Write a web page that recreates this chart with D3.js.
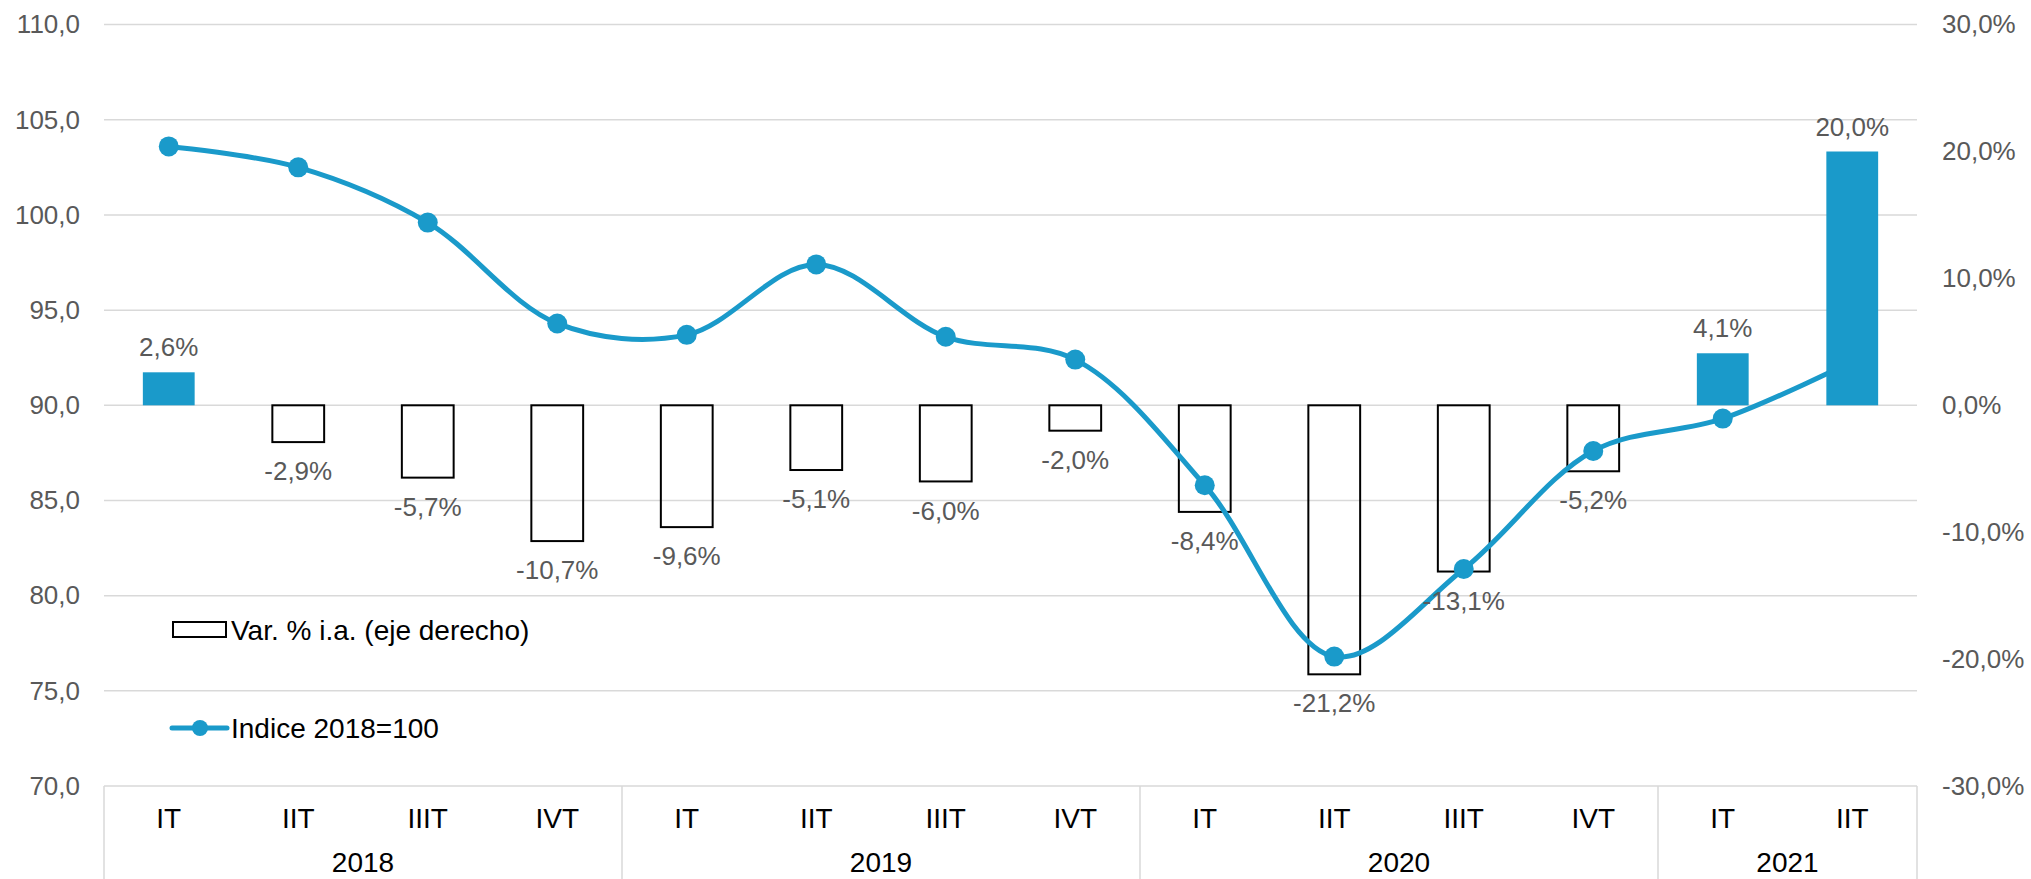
<!DOCTYPE html>
<html>
<head>
<meta charset="utf-8">
<script src="https://cdn.jsdelivr.net/npm/d3@7"></script>
<style>
  html, body { margin: 0; padding: 0; background: #fff; overflow: hidden; }
  svg { display: block; font-family: "Liberation Sans", Arial, sans-serif; }
</style>
</head>
<body>
<div id="chart"></div>
<script>
// data
const quarters = ["IT", "IIT", "IIIT", "IVT", "IT", "IIT", "IIIT", "IVT", "IT", "IIT", "IIIT", "IVT", "IT", "IIT"];
const yearOfQuarter = ["2018", "2018", "2018", "2018", "2019", "2019", "2019", "2019", "2020", "2020", "2020", "2020", "2021", "2021"];
const indice = [103.6, 102.5, 99.6, 94.3, 93.7, 97.4, 93.6, 92.4, 85.8, 76.8, 81.4, 87.6, 89.3, 92.3];
const varPct = [2.6, -2.9, -5.7, -10.7, -9.6, -5.1, -6.0, -2.0, -8.4, -21.2, -13.1, -5.2, 4.1, 20.0];
const leftTicks = [70, 75, 80, 85, 90, 95, 100, 105, 110];
const rightTicks = [-30, -20, -10, 0, 10, 20, 30];
const legendLabels = ["Var. % i.a. (eje derecho)", "Indice 2018=100"];

const W = 2031, H = 879;
const margin = {top: 24.6, right: 114, bottom: 93, left: 104};
const plotW = W - margin.left - margin.right,
      plotH = H - margin.top - margin.bottom;
const blue = "#1A9ACA", grid = "#D9D9D9", gray = "#595959";

const es = d3.formatLocale({decimal: ",", thousands: ".", grouping: [3], currency: ["", "€"], minus: "-"});
const f1 = es.format(".1f");

const svg = d3.select("#chart").append("svg")
  .attr("width", W).attr("height", H);
const g = svg.append("g")
  .attr("transform", `translate(${margin.left},${margin.top})`);

const idx = quarters.map((d, i) => i);
const x = d3.scaleBand().domain(idx).range([0, plotW]).padding(0);
const yL = d3.scaleLinear().domain([70, 110]).range([plotH, 0]);
const yR = d3.scaleLinear().domain([-30, 30]).range([plotH, 0]);
const barW = x.bandwidth() * 0.4;

// gridlines
g.append("g").selectAll("line").data(leftTicks).join("line")
  .attr("x1", 0).attr("x2", plotW)
  .attr("y1", d => yL(d)).attr("y2", d => yL(d))
  .attr("stroke", grid).attr("stroke-width", 1.5);

// left axis
const axL = g.append("g").call(d3.axisLeft(yL).tickValues(leftTicks).tickSize(0).tickPadding(24).tickFormat(f1));
axL.select(".domain").remove();
axL.selectAll("text").attr("font-size", 26).attr("fill", gray).attr("font-family", null);

// right axis
const axR = g.append("g").attr("transform", `translate(${plotW},0)`)
  .call(d3.axisRight(yR).tickValues(rightTicks).tickSize(0).tickPadding(25).tickFormat(d => f1(d) + "%"));
axR.select(".domain").remove();
axR.selectAll("text").attr("font-size", 26).attr("fill", gray).attr("font-family", null);

// category axis box
const years = Array.from(new Set(yearOfQuarter));
const yearStart = years.map(y => yearOfQuarter.indexOf(y));
const yearEnd = years.map(y => yearOfQuarter.lastIndexOf(y));
const cat = g.append("g").attr("transform", `translate(0,${plotH})`);
const seps = [0].concat(yearEnd.map(e => x(e) + x.bandwidth()));
cat.selectAll("line.sep").data(seps).join("line").attr("class", "sep")
  .attr("x1", d => d).attr("x2", d => d).attr("y1", 0).attr("y2", H - margin.top - plotH)
  .attr("stroke", grid).attr("stroke-width", 1.5);
cat.selectAll("text.q").data(quarters).join("text").attr("class", "q")
  .attr("x", (d, i) => x(i) + x.bandwidth() / 2).attr("y", 32).attr("dy", "0.35em")
  .attr("text-anchor", "middle").attr("font-size", 28).attr("fill", "#000")
  .text(d => d);
cat.selectAll("text.yr").data(years).join("text").attr("class", "yr")
  .attr("x", (d, i) => (x(yearStart[i]) + x(yearEnd[i]) + x.bandwidth()) / 2).attr("y", 76).attr("dy", "0.35em")
  .attr("text-anchor", "middle").attr("font-size", 28).attr("fill", "#000")
  .text(d => d);

// negative bars (outline only) under the line
const bars = varPct.map((v, i) => ({v, i}));
g.append("g").selectAll("rect").data(bars.filter(d => d.v < 0)).join("rect")
  .attr("x", d => x(d.i) + (x.bandwidth() - barW) / 2)
  .attr("y", yR(0)).attr("width", barW).attr("height", d => yR(d.v) - yR(0))
  .attr("fill", "none").attr("stroke", "#000").attr("stroke-width", 2);

// index line
const line = d3.line()
  .x((d, i) => x(i) + x.bandwidth() / 2)
  .y(d => yL(d))
  .curve(d3.curveCatmullRom);
g.append("path").datum(indice)
  .attr("fill", "none").attr("stroke", blue).attr("stroke-width", 5)
  .attr("d", line);
g.append("g").selectAll("circle").data(indice.slice(0, -1)).join("circle")
  .attr("cx", (d, i) => x(i) + x.bandwidth() / 2).attr("cy", d => yL(d))
  .attr("r", 10).attr("fill", blue);

// positive bars filled, on top
g.append("g").selectAll("rect").data(bars.filter(d => d.v >= 0)).join("rect")
  .attr("x", d => x(d.i) + (x.bandwidth() - barW) / 2)
  .attr("y", d => yR(d.v)).attr("width", barW).attr("height", d => yR(0) - yR(d.v))
  .attr("fill", blue);

// bar labels
g.append("g").selectAll("text").data(bars).join("text")
  .attr("x", d => x(d.i) + x.bandwidth() / 2)
  .attr("y", d => d.v >= 0 ? yR(d.v) - 25 : yR(d.v) + 29)
  .attr("dy", "0.35em").attr("text-anchor", "middle")
  .attr("font-size", 26).attr("fill", gray)
  .text(d => f1(d.v) + "%");

// legend
const lg = svg.append("g");
lg.append("rect").attr("x", 173).attr("y", 622).attr("width", 53).attr("height", 15)
  .attr("fill", "#fff").attr("stroke", "#000").attr("stroke-width", 2);
lg.append("text").attr("x", 231).attr("y", 630).attr("dy", "0.35em")
  .attr("font-size", 28).attr("fill", "#000").text(legendLabels[0]);
lg.append("line").attr("x1", 172).attr("x2", 227).attr("y1", 728).attr("y2", 728)
  .attr("stroke", blue).attr("stroke-width", 5).attr("stroke-linecap", "round");
lg.append("circle").attr("cx", 200).attr("cy", 728).attr("r", 8).attr("fill", blue);
lg.append("text").attr("x", 231).attr("y", 728).attr("dy", "0.35em")
  .attr("font-size", 28).attr("fill", "#000").text(legendLabels[1]);
</script>
</body>
</html>
